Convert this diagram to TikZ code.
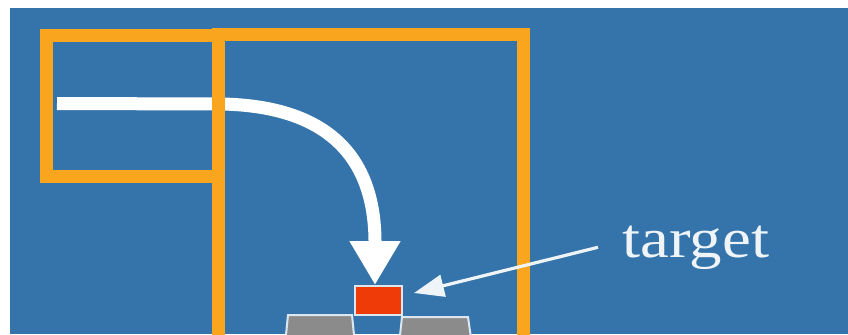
\documentclass[tikz,border=0pt]{standalone}
\usepackage{fontspec}
\setmainfont{Liberation Serif}
\usepackage{graphicx}
\usepackage{xcolor}
\usepackage{tikz}
\usetikzlibrary{arrows.meta,positioning,calc}

\definecolor{bgblue}{HTML}{3574AB}
\definecolor{frameorange}{HTML}{F9A51E}
\definecolor{tgtred}{HTML}{EE3B08}
\definecolor{keygray}{HTML}{8B8B8B}
\definecolor{edgelight}{HTML}{DCE6EE}

\begin{document}
\begin{tikzpicture}[
    x=0.5pt, y=-0.5pt,
    frame/.style={draw=frameorange, line width=6.5pt, line join=miter},
    bigarr/.style={-{Triangle[length=22pt, width=24pt]}, draw=white, line width=6.5pt},
    thinarr/.style={-{Triangle[length=15pt, width=11pt]}, draw=white!92!bgblue, line width=1.6pt},
    tgtbox/.style={rectangle, draw=edgelight, fill=tgtred, line width=1pt, minimum width=23.5pt, minimum height=14.5pt, inner sep=0pt},
    keybox/.style={draw=edgelight, fill=keygray, line width=1pt},
    lbl/.style={text=white!92!bgblue, inner xsep=12pt, inner ysep=0pt, font=\fontsize{28}{30}\selectfont}
]
    \useasboundingbox (0,0) rectangle (848,334);
    \fill [white] (0,0) rectangle (848,334);
    \fill [bgblue] (10,8) rectangle (848,334);
    \clip (0,0) rectangle (848,334);

    % keys under the target
    \draw [keybox] (288,315) -- (352,315) -- (355,345) -- (285,345) -- cycle;
    \draw [keybox] (402,317) -- (468,317) -- (472,345) -- (399,345) -- cycle;
    \node [tgtbox] (tgt) at (378.5,300.5) {};

    % path into the target
    \coordinate (src) at (57,103.5);
    \coordinate (bend) at (375,240);
    \draw [bigarr] (src) -- (222,104) .. controls (320,106) and (374,150) .. (bend) -- (bend |- tgt.north);

    % frames
    \draw [frame] (46.5,35.5) rectangle (218.5,176.5);
    \draw [frame] (218.5,34.5) rectangle (523.5,360);

    % label
    \node [lbl, anchor=base west] (lab) at (598,257) {\scalebox{1.16}[1]{target}};
    \draw [thinarr] (lab.west) -- ([xshift=5.5pt,yshift=3.75pt]tgt.east);
\end{tikzpicture}
\end{document}
